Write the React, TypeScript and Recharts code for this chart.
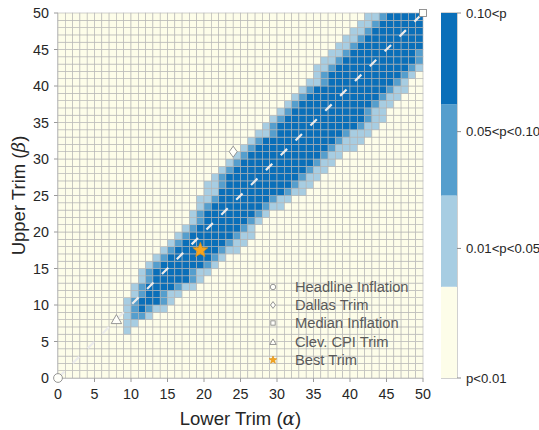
import { ScatterChart, Scatter, XAxis, YAxis, Label, BarChart, Bar, ReferenceArea, Legend } from "recharts";

const FONT = "'Liberation Sans', Arial, Helvetica, sans-serif";
const GRID_N = 50;
const PLOT = 365; // plot area is square, 365px
const CELL = PLOT / GRID_N;

const xTicks = [0, 5, 10, 15, 20, 25, 30, 35, 40, 45, 50];
const yTicks = [0, 5, 10, 15, 20, 25, 30, 35, 40, 45, 50];

// p-value class per cell, row by row (upper trim), starting at lower-trim column bandStart
// 0 = p<0.01, 1 = 0.01<p<0.05, 2 = 0.05<p<0.10, 3 = 0.10<p
const bandRows = [6, 7, 8, 9, 10, 11, 12, 13, 14, 15, 16, 17, 18, 19, 20, 21, 22, 23, 24, 25, 26, 27, 28, 29, 30, 31, 32, 33, 34, 35, 36, 37, 38, 39, 40, 41, 42, 43, 44, 45, 46, 47, 48, 49];
const bandStart = [9, 9, 9, 9, 9, 10, 10, 11, 11, 12, 13, 14, 15, 16, 17, 18, 18, 19, 19, 20, 20, 21, 22, 23, 24, 25, 26, 27, 28, 29, 30, 31, 32, 33, 34, 35, 35, 36, 37, 38, 39, 40, 41, 42];
const bandCells = [
  "1",
  "11",
  "1221",
  "123211",
  "1233321",
  "1233211",
  "123333211",
  "123333321",
  "1233333211",
  "1233333321",
  "1233333321",
  "12333333211",
  "12333333211",
  "12333333211",
  "1233333321",
  "1233333321",
  "12333333321",
  "123333333211",
  "1123333333211",
  "11333333333211",
  "112333333333211",
  "123333333333211",
  "123333333333211",
  "123333333333211",
  "123333333333211",
  "1233333333332111",
  "1233333333332111",
  "1123333333332111",
  "1233333333333211",
  "1233333333333211",
  "123333333333211",
  "123333333333211",
  "123333333333211",
  "123333333333211",
  "11233333333321",
  "12333333333321",
  "112333333333321",
  "11233333333332",
  "1123333333332",
  "112333333333",
  "11233333333",
  "1123333333",
  "112333333",
  "11233333",
];

const levelColors = ["#fdfde9", "#a7cde2", "#559ecd", "#0a6fb9"];

const markerNames = ["Headline Inflation", "Dallas Trim", "Median Inflation", "Clev. CPI Trim", "Best Trim"];
const markerX = [0, 24, 50, 8, 19.5];
const markerY = [0, 31, 50, 8, 17.5];

const diagonal = [
  { x: 0, y: 0 },
  { x: 50, y: 50 },
];

const colorbarLabels = ["p<0.01", "0.01<p<0.05", "0.05<p<0.10", "0.10<p"];
const colorbarTicks = [0, 1.42, 2.7, 4];

const cells: { x: number; y: number; level: number }[] = [];
for (let j = 0; j < GRID_N; j++) {
  const k = bandRows.indexOf(j);
  for (let i = 0; i < GRID_N; i++) {
    let level = 0;
    if (k >= 0) {
      const off = i - bandStart[k];
      if (off >= 0 && off < bandCells[k].length) level = Number(bandCells[k][off]);
    }
    cells.push({ x: i + 0.5, y: j + 0.5, level });
  }
}

const cbData = [{ name: "cb", s0: 1, s1: 1, s2: 1, s3: 1 }];

function CellShape(props: any) {
  const { cx, cy, payload } = props;
  return (
    <rect
      x={cx - CELL / 2}
      y={cy - CELL / 2}
      width={CELL}
      height={CELL}
      fill={levelColors[payload.level]}
      stroke="#b3b3b3"
      strokeWidth={0.6}
    />
  );
}

function MarkerGlyph({ kind, cx, cy, s }: { kind: number; cx: number; cy: number; s: number }) {
  const edge = "#8a8a8a";
  const face = "#fffffa";
  const sw = 0.9;
  if (kind === 0) return <circle cx={cx} cy={cy} r={4.4 * s} fill={face} stroke={edge} strokeWidth={sw} />;
  if (kind === 1)
    return (
      <path
        d={`M${cx},${cy - 5.5 * s} L${cx + 4 * s},${cy} L${cx},${cy + 5.5 * s} L${cx - 4 * s},${cy} Z`}
        fill={face}
        stroke={edge}
        strokeWidth={sw}
      />
    );
  if (kind === 2)
    return <rect x={cx - 3.5 * s} y={cy - 3.5 * s} width={7 * s} height={7 * s} fill={face} stroke={edge} strokeWidth={sw} />;
  if (kind === 3)
    return (
      <path
        d={`M${cx},${cy - 5 * s} L${cx + 5.2 * s},${cy + 4 * s} L${cx - 5.2 * s},${cy + 4 * s} Z`}
        fill={face}
        stroke={edge}
        strokeWidth={sw}
      />
    );
  const pts: string[] = [];
  for (let n = 0; n < 10; n++) {
    const r = n % 2 === 0 ? 8 * s : 3.4 * s;
    const a = -Math.PI / 2 + (n * Math.PI) / 5;
    pts.push(`${cx + r * Math.cos(a)},${cy + r * Math.sin(a)}`);
  }
  return <polygon points={pts.join(" ")} fill="#f5a51f" stroke="#d88a0c" strokeWidth={0.6} />;
}

function XTitle(props: any) {
  const vb = props.viewBox || { x: 58, y: 378, width: PLOT };
  return (
    <text x={vb.x + vb.width / 2} y={vb.y + 47} textAnchor="middle" fontSize={18.5} fill="#262626" fontFamily={FONT}>
      Lower Trim (<tspan fontFamily="'DejaVu Serif', serif" fontStyle="italic">α</tspan>)
    </text>
  );
}

function YTitle(props: any) {
  const vb = props.viewBox || { x: 0, y: 13, height: PLOT };
  const cx = 18;
  const cy = vb.y + vb.height / 2;
  return (
    <text
      x={cx}
      y={cy}
      transform={`rotate(-90, ${cx}, ${cy})`}
      textAnchor="middle"
      dominantBaseline="central"
      fontSize={18.5}
      fill="#262626"
      fontFamily={FONT}
    >
      Upper Trim (<tspan fontFamily="'DejaVu Serif', serif" fontStyle="italic">β</tspan>)
    </text>
  );
}

function MarkerLegend() {
  return (
    <div style={{ fontFamily: FONT, fontSize: 14.7, color: "#5a5a5a" }}>
      {markerNames.map((name, k) => (
        <div key={name} style={{ display: "flex", alignItems: "center", height: 18.2 }}>
          <svg width={30} height={18} style={{ flex: "none" }}>
            <MarkerGlyph kind={k} cx={8} cy={9} s={k === 4 ? 0.5 : 0.62} />
          </svg>
          <span style={{ whiteSpace: "nowrap" }}>{name}</span>
        </div>
      ))}
    </div>
  );
}

const tickStyle = { fill: "#262626", fontSize: 14.3, fontFamily: FONT };

export default function App() {
  return (
    <div style={{ position: "absolute", left: 0, top: 0, width: 539, height: 430, background: "#fff", fontFamily: FONT }}>
      <div style={{ position: "absolute", left: 0, top: 0 }}>
        <ScatterChart width={539} height={430} margin={{ top: 13, right: 116, bottom: 0, left: 0 }}>
          <XAxis
            type="number"
            dataKey="x"
            domain={[0, 50]}
            ticks={xTicks}
            interval={0}
            height={52}
            tickSize={4}
            tickMargin={7}
            tick={tickStyle}
            tickLine={{ stroke: "#9a9a9a" }}
            axisLine={{ stroke: "#9a9a9a" }}
          >
            <Label content={XTitle} />
          </XAxis>
          <YAxis
            type="number"
            dataKey="y"
            domain={[0, 50]}
            ticks={yTicks}
            interval={0}
            width={58}
            tickSize={4}
            tickMargin={5}
            tick={tickStyle}
            tickLine={{ stroke: "#9a9a9a" }}
            axisLine={{ stroke: "#9a9a9a" }}
          >
            <Label content={YTitle} />
          </YAxis>
          <Scatter data={cells} shape={CellShape} isAnimationActive={false} legendType="none" />
          <Scatter
            data={diagonal}
            line={{ stroke: "#ececec", strokeWidth: 2.2, strokeDasharray: "9 12" }}
            shape={() => <g />}
            isAnimationActive={false}
            legendType="none"
          />
          {markerNames.map((name, k) => (
            <Scatter
              key={name}
              name={name}
              data={[{ x: markerX[k], y: markerY[k] }]}
              shape={(p: any) => <MarkerGlyph kind={k} cx={p.cx} cy={p.cy} s={1} />}
              isAnimationActive={false}
            />
          ))}
          <Legend
            layout="vertical"
            align="center"
            verticalAlign="middle"
            content={MarkerLegend}
            wrapperStyle={{ left: 265, top: 278, width: 160 }}
          />
        </ScatterChart>
      </div>
      <div style={{ position: "absolute", left: 441, top: 0 }}>
        <BarChart width={98} height={430} data={cbData} margin={{ top: 13, right: 0, bottom: 52, left: 0 }} barCategoryGap={0}>
          <XAxis dataKey="name" hide />
          <YAxis
            orientation="right"
            type="number"
            domain={[0, 4]}
            ticks={colorbarTicks}
            interval={0}
            width={82}
            tickSize={4}
            tickMargin={5}
            axisLine={false}
            tickLine={{ stroke: "#8c8c8c" }}
            tick={{ ...tickStyle, fontSize: 13.2, textAnchor: "start" }}
            tickFormatter={(v: number) => colorbarLabels[colorbarTicks.indexOf(v)]}
          />
          <Bar dataKey="s0" stackId="c" fill={levelColors[0]} isAnimationActive={false} />
          <Bar dataKey="s1" stackId="c" fill={levelColors[1]} isAnimationActive={false} />
          <Bar dataKey="s2" stackId="c" fill={levelColors[2]} isAnimationActive={false} />
          <Bar dataKey="s3" stackId="c" fill={levelColors[3]} isAnimationActive={false} />
          <ReferenceArea y1={0} y2={4} fill="none" stroke="#8c8c8c" strokeWidth={0.8} ifOverflow="visible" />
        </BarChart>
      </div>
    </div>
  );
}
